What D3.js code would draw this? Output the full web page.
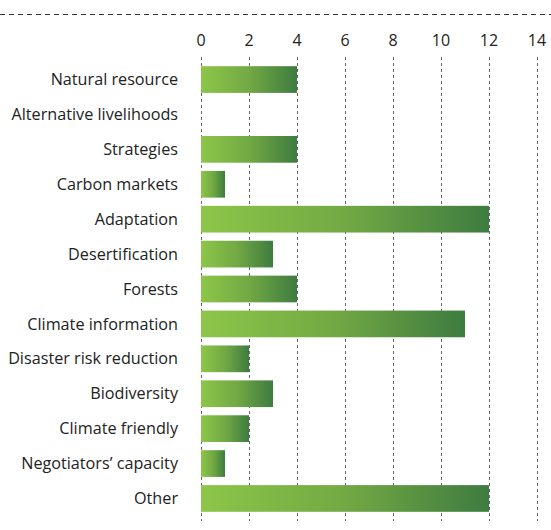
<!DOCTYPE html>
<html lang="en">
<head>
  <meta charset="UTF-8" />
  <title>Bar chart</title>
  <script src="https://d3js.org/d3.v7.min.js"></script>
  <style>
    body { margin: 0; background: #fff; font-family: "Open Sans", Lato, sans-serif; }
    svg { display: block; }
    .grid line { stroke: #666; stroke-width: 1px; stroke-dasharray: 3,3; }
    .top-rule { stroke: #333; stroke-width: 1px; stroke-dasharray: 5,4; }
    .tick-label { font-size: 16px; fill: #222; text-anchor: middle; }
    .cat-label { font-size: 16.2px; fill: #222; text-anchor: end; }
  </style>
</head>
<body>
<svg width="551" height="530"></svg>
<script>
const categories = [
  "Natural resource", "Alternative livelihoods", "Strategies", "Carbon markets",
  "Adaptation", "Desertification", "Forests", "Climate information",
  "Disaster risk reduction", "Biodiversity", "Climate friendly",
  "Negotiators’ capacity", "Other"
];
const values = [4, 0, 4, 1, 12, 3, 4, 11, 2, 3, 2, 1, 12];
const ticks = [0, 2, 4, 6, 8, 10, 12, 14];

const svg = d3.select("svg");

const x = d3.scaleLinear().domain([0, 14]).range([201, 537]);
const y = d3.scaleBand().domain(categories).range([62, 516]).paddingInner(0.235).paddingOuter(0.12);

// gradient per bar
const grad = svg.append("defs").append("linearGradient")
  .attr("id", "barGrad")
  .attr("x1", "0%").attr("x2", "100%").attr("y1", "0%").attr("y2", "0%");
grad.append("stop").attr("offset", "0%").attr("stop-color", "#8dc649");
grad.append("stop").attr("offset", "50%").attr("stop-color", "#72a944");
grad.append("stop").attr("offset", "100%").attr("stop-color", "#3e7c40");

// dashed rule at top
svg.append("line").attr("class", "top-rule")
  .attr("x1", 0).attr("x2", 551).attr("y1", 14.5).attr("y2", 14.5);

// vertical grid lines
svg.append("g").attr("class", "grid")
  .selectAll("line")
  .data(ticks)
  .join("line")
  .attr("x1", d => Math.round(x(d)) + 0.5)
  .attr("x2", d => Math.round(x(d)) + 0.5)
  .attr("y1", 57)
  .attr("y2", 521);

// tick labels
svg.append("g")
  .selectAll("text")
  .data(ticks)
  .join("text")
  .attr("class", "tick-label")
  .attr("x", d => x(d))
  .attr("y", 46)
  .text(d => d);

// bars
svg.append("g")
  .selectAll("rect")
  .data(values)
  .join("rect")
  .attr("x", x(0))
  .attr("y", (d, i) => y(categories[i]))
  .attr("width", d => x(d) - x(0))
  .attr("height", y.bandwidth())
  .attr("fill", "url(#barGrad)");

// category labels
svg.append("g")
  .selectAll("text")
  .data(categories)
  .join("text")
  .attr("class", "cat-label")
  .attr("x", 178)
  .attr("y", d => y(d) + y.bandwidth() / 2)
  .attr("dy", "0.35em")
  .text(d => d);
</script>
</body>
</html>
